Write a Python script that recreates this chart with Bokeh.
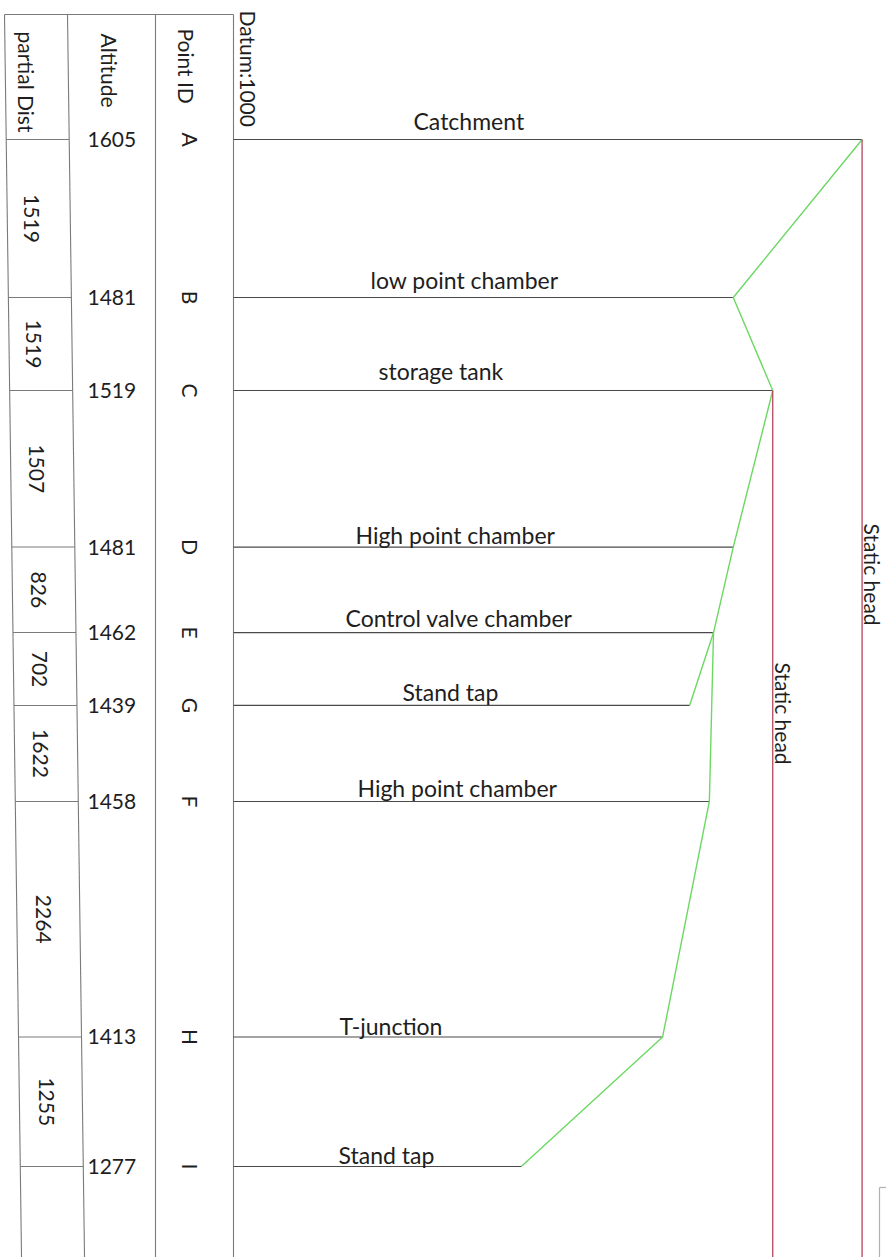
import math
from bokeh.plotting import figure
from bokeh.models import ColumnDataSource, Range1d
from bokeh.core.properties import value
from bokeh.embed import file_html
from bokeh.resources import INLINE

# ---------------- data ----------------
point_ids = ["A", "B", "C", "D", "E", "G", "F", "H", "I"]
altitudes = [1605, 1481, 1519, 1481, 1462, 1439, 1458, 1413, 1277]      # m
chainage = [0, 1519, 2413, 3918, 4740, 5441, 6364, 8628, 9873]           # drawn station (m)
features = ["Catchment", "low point chamber", "storage tank", "High point chamber",
            "Control valve chamber", "Stand tap", "High point chamber", "T-junction", "Stand tap"]
partial_dist = [1519, 1519, 1507, 826, 702, 1622, 2264, 1255]            # m between rows
datum = 1000
hgl_main = ["A", "B", "C", "D", "E", "F", "H", "I"]
hgl_branch = ["E", "G"]
static_sources = ["A", "C"]

# ---------------- layout (screen pixels of the drawing) ----------------
SX = 1.039        # px per metre of altitude
SY = 0.10402      # px per metre of chainage
DATUM_PX = 233
ROW0_PX = 139
OFF = 0


def X(px):
    return datum + (px - DATUM_PX) / SX


def Y(px):
    return (px - ROW0_PX) / SY


def ypx(c):
    return ROW0_PX + c * SY


W, H = 886, 1257
p = figure(width=W, height=H, output_backend="svg", toolbar_location=None,
           x_range=Range1d(X(OFF), X(OFF + W)), y_range=Range1d(Y(OFF + H), Y(OFF)),
           x_axis_type=None, y_axis_type=None, min_border=0)
p.outline_line_color = None
p.grid.visible = False
p.background_fill_color = "white"
p.border_fill_color = "white"

FONT = value("Lato")
TXT = "#1e1e1e"
idx = {k: i for i, k in enumerate(point_ids)}
BOT = Y(1262)
TOP = Y(14)

# ---------------- table frame ----------------
GRID = "#7a7a7a"
skew = 0.0137


def left_border(y):
    return 4 + skew * (y - 14)


def divider(y):
    return 67 + skew * (y - 14)


tbl = ColumnDataSource(dict(
    x0=[X(left_border(14)), X(divider(14)), X(155), X(DATUM_PX), X(left_border(14))],
    y0=[TOP, TOP, TOP, TOP, TOP],
    x1=[X(left_border(1262)), X(divider(1262)), X(155), X(DATUM_PX), X(DATUM_PX)],
    y1=[BOT, BOT, BOT, BOT, TOP],
))
p.segment("x0", "y0", "x1", "y1", source=tbl, line_color=GRID, line_width=1.1)

# partial distance row lines
rows_y = [ypx(c) for c in chainage]
p.segment(x0=[X(left_border(y)) for y in rows_y], y0=chainage,
          x1=[X(divider(y)) for y in rows_y], y1=chainage,
          line_color=GRID, line_width=1.1)

# bottom-right fragment of a box
p.segment(x0=[X(879), X(879)], y0=[Y(1187), Y(1187)], x1=[X(879), X(892)], y1=[BOT, Y(1187)],
          line_color="#b0b0b0", line_width=1.2)

# ---------------- elevation lines ----------------
p.segment(x0=[datum] * len(altitudes), y0=chainage, x1=altitudes, y1=chainage,
          line_color="#4a4a4a", line_width=1.2)

# ---------------- hydraulic (green) line ----------------
GREEN = "#6cd863"
p.line([altitudes[idx[k]] for k in hgl_main], [chainage[idx[k]] for k in hgl_main],
       line_color=GREEN, line_width=1.4)
p.line([altitudes[idx[k]] for k in hgl_branch], [chainage[idx[k]] for k in hgl_branch],
       line_color=GREEN, line_width=1.4)

# ---------------- static head (red) lines ----------------
RED = "#b3475e"
sx = [altitudes[idx[k]] for k in static_sources]
sy = [chainage[idx[k]] for k in static_sources]
p.segment(x0=sx, y0=sy, x1=sx, y1=[BOT] * len(sx), line_color=RED, line_width=1.3)
p.text(x=[a + 10.5 / SX for a in sx], y=[Y(523), Y(662)], text=["Static head"] * len(sx),
       angle=-math.pi / 2, text_align="left", text_baseline="middle",
       text_font=FONT, text_font_size="21px", text_color=TXT)

# ---------------- column headers ----------------
p.text(x=[X(26), X(109), X(186), X(247.5)], y=[Y(31), Y(33), Y(28), Y(10)],
       text=["partial Dist", "Altitude", "Point ID", "Datum:" + str(datum)],
       angle=-math.pi / 2, text_align="left", text_baseline="middle",
       text_font=FONT, text_font_size="21px", text_color=TXT)

# ---------------- table values ----------------
mid = [(chainage[i] + chainage[i + 1]) / 2 for i in range(len(partial_dist))]
p.text(x=[X(30 + 0.017 * (ypx(m) - ROW0_PX)) for m in mid], y=mid,
       text=[str(v) for v in partial_dist], angle=-math.pi / 2,
       text_align="center", text_baseline="middle",
       text_font=FONT, text_font_size="21px", text_color=TXT)

p.text(x=[X(87)] * len(altitudes), y=chainage, text=[str(a) for a in altitudes],
       text_align="left", text_baseline="middle",
       text_font=FONT, text_font_size="21px", text_color=TXT)

p.text(x=[X(190)] * len(point_ids), y=chainage, text=point_ids, angle=-math.pi / 2,
       text_align="center", text_baseline="middle",
       text_font=FONT, text_font_size="21px", text_color=TXT)

# ---------------- feature labels ----------------
label_left_px = [413, 370, 378, 355, 345, 402, 357, 339, 338]
label_gap_px = [19, 18, 20, 12, 15, 13, 13, 11, 11]
lab = ColumnDataSource(dict(x=[X(v) for v in label_left_px], y=chainage, t=features,
                            yo=[-g for g in label_gap_px]))
p.text(x="x", y="y", text="t", y_offset="yo", source=lab,
       text_align="left", text_baseline="alphabetic",
       text_font=FONT, text_font_size="23px", text_color=TXT)

open("out.html", "w").write(file_html(p, INLINE))
